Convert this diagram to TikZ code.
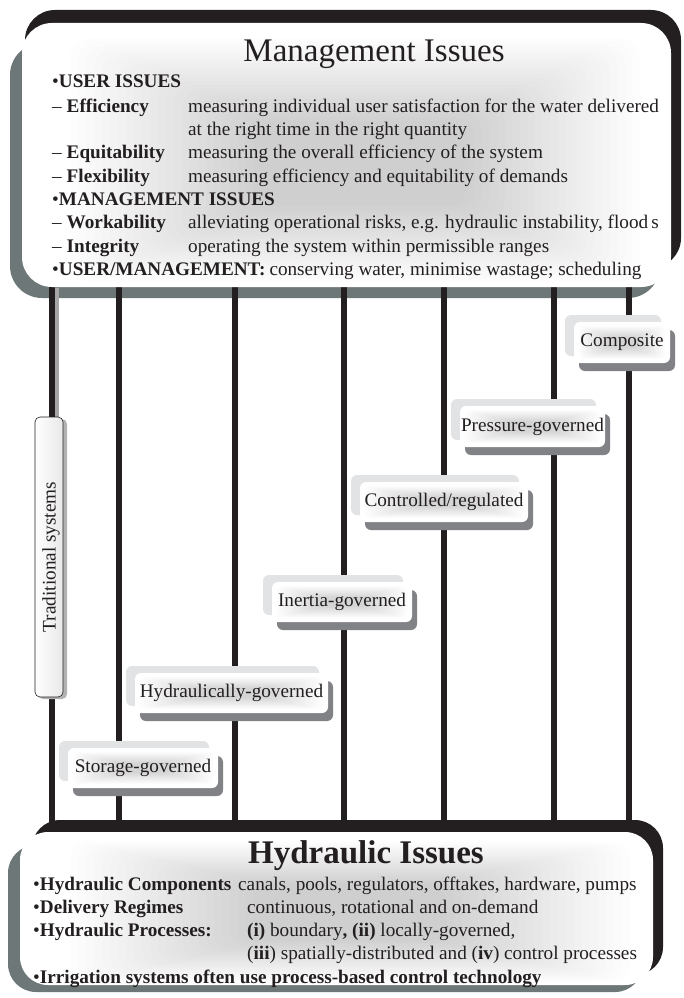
\documentclass[tikz,border=0pt]{standalone}
\usepackage{fontspec}
\setmainfont{Liberation Serif}
\definecolor{ink}{RGB}{35,31,32}
\definecolor{frameshade}{RGB}{110,119,119}
\definecolor{tagdark}{RGB}{128,130,133}
\definecolor{taglight}{RGB}{226,227,228}

% Label box: light plate behind, dark drop shadow, white face with a soft grey haze
\newcommand\tagbox[6]{%
  \begin{scope}[shift={(#2,#3)}]
    \fill[taglight, rounded corners=6] ({-#4/2-9},{-#5/2-7}) rectangle ({#4/2-9},{#5/2-7});
    \fill[tagdark, rounded corners=6] ({-#4/2+5},{-#5/2+8}) rectangle ({#4/2+5},{#5/2+8});
    \fill[white, rounded corners=6] ({-#4/2},{-#5/2}) rectangle ({#4/2},{#5/2});
    \foreach \k in {0,...,13} {
      \fill[black, opacity=0.011, rounded corners=5]
        ({-#4/2+5+\k*#4*0.022},{-#5/2+4+\k*0.85}) rectangle ({#4/2-5-\k*#4*0.022},{#5/2-4-\k*0.85});
    }
  \end{scope}
  \node[tagtext] (#1) at (#2,#3) {#6};
}

\begin{document}
\begin{tikzpicture}[x=1pt,y=-1pt,
  bar/.style={ink, line width=6.5pt},
  txt/.style={anchor=base west, inner sep=0pt, text=ink, font=\fontsize{19.2}{23}\selectfont},
  tagtext/.style={inner sep=0pt, text=ink, font=\fontsize{19.2}{23}\selectfont},
  titletext/.style={anchor=base, inner sep=0pt, text=ink, font=\fontsize{33}{38}\selectfont}]
\useasboundingbox (0,0) rectangle (683,998);

% ---- frames (shadow and dark rim) ----
\fill[frameshade, rounded corners=32] (10,43) rectangle (660,298);
\fill[ink, rounded corners=30] (25,10) rectangle (681,268);
\fill[frameshade, rounded corners=28] (8,845) rectangle (643,992);
\fill[ink, rounded corners=28] (32,820) rectangle (663,975);

% ---- vertical bars ----
\foreach \x/\n in {52/a,119/b,235/c,344/d,444/e,554/f,629/g}
  \draw[bar] (\x,285) coordinate (top\n) -- (\x,835) coordinate (bot\n);
\fill[gray!70] (55.3,288) rectangle (59,418);

% ---- white panels with soft haze ----
\fill[white, rounded corners=30] (22,23) rectangle (671,287);
\foreach \k in {0,...,23}
  \fill[black, opacity=0.007, rounded corners=20]
    ({70+\k*8},{38+\k*3.6}) rectangle ({640-\k*7.5},{282-\k*3.3});
\fill[white, rounded corners=28] (20,832) rectangle (653,985);
\foreach \k in {0,...,23}
  \fill[black, opacity=0.007, rounded corners=16]
    ({70+\k*8},{842+\k*1.8}) rectangle ({630-\k*8},{982-\k*1.8});

% ---- Management Issues ----
\node[titletext] (mtitle) at (374,62) {Management Issues};
\node[txt] (u0) at (52,88) {\textbullet\textbf{USER ISSUES}};
\node[txt] (u1) at (52,112) {– \textbf{Efficiency}};
\node[txt] (d1) at (188,112) {measuring individual user satisfaction for the water delivered};
\node[txt] (d1b) at (188,135) {at the right time in the right quantity};
\node[txt] (u2) at (52,158) {– \textbf{Equitability}};
\node[txt] (d2) at (188,158) {measuring the overall efficiency of the system};
\node[txt] (u3) at (52,182) {– \textbf{Flexibility}};
\node[txt] (d3) at (188,182) {measuring efficiency and equitability of demands};
\node[txt] (m0) at (52,205) {\textbullet\textbf{MANAGEMENT ISSUES}};
\node[txt] (m1) at (52,228) {– \textbf{Workability}};
\node[txt] (e1) at (188,228) {alleviating operational risks, e.g. hydraulic instability, flood\hspace{3pt}s};
\node[txt] (m2) at (52,252) {– \textbf{Integrity}};
\node[txt] (e2) at (188,252) {operating the system within permissible ranges};
\node[txt] (um) at (52,275) {\textbullet\textbf{USER/MANAGEMENT:}\hspace{4pt}conserving water, minimise wastage; scheduling};

% ---- Hydraulic Issues ----
\node[titletext, font=\fontsize{33}{38}\selectfont\bfseries] (htitle) at (366,863) {Hydraulic Issues};
\node[txt] (h1) at (33,890) {\textbullet\textbf{Hydraulic Components}};
\node[txt] (g1) at (238,890) {canals, pools, regulators, offtakes, hardware, pumps};
\node[txt] (h2) at (33,913) {\textbullet\textbf{Delivery Regimes}};
\node[txt] (g2) at (247,913) {continuous, rotational and on-demand};
\node[txt] (h3) at (33,936) {\textbullet\textbf{Hydraulic Processes:}};
\node[txt] (g3) at (247,936) {\textbf{(i)} boundary\textbf{,} \textbf{(ii)} locally-governed,};
\node[txt] (g3b) at (247,959) {(\textbf{iii}) spatially-distributed and (\textbf{iv}) control processes};
\node[txt] (h4) at (33,983) {\textbullet\textbf{Irrigation systems often use process-based control technology}};

% ---- Traditional systems column box ----
\fill[gray!60, rounded corners=5] (38,419) rectangle (67,699);
\draw[ink, line width=0.6pt, rounded corners=5, left color=white, right color=gray!18]
  (35,417) rectangle (63,697);
\node[tagtext, rotate=90] (trad) at (51,557) {Traditional systems};

% ---- system class labels ----
\tagbox{comp}{622}{342.5}{96}{41}{Composite}
\tagbox{press}{532.5}{426.5}{145}{41}{Pressure-governed}
\tagbox{ctrl}{444}{502}{168}{40}{Controlled/regulated}
\tagbox{inert}{342}{602}{140}{40}{Inertia-governed}
\tagbox{hydr}{231.5}{693}{193}{40}{Hydraulically-governed}
\tagbox{stor}{143}{768}{150}{40}{Storage-governed}
\end{tikzpicture}
\end{document}
